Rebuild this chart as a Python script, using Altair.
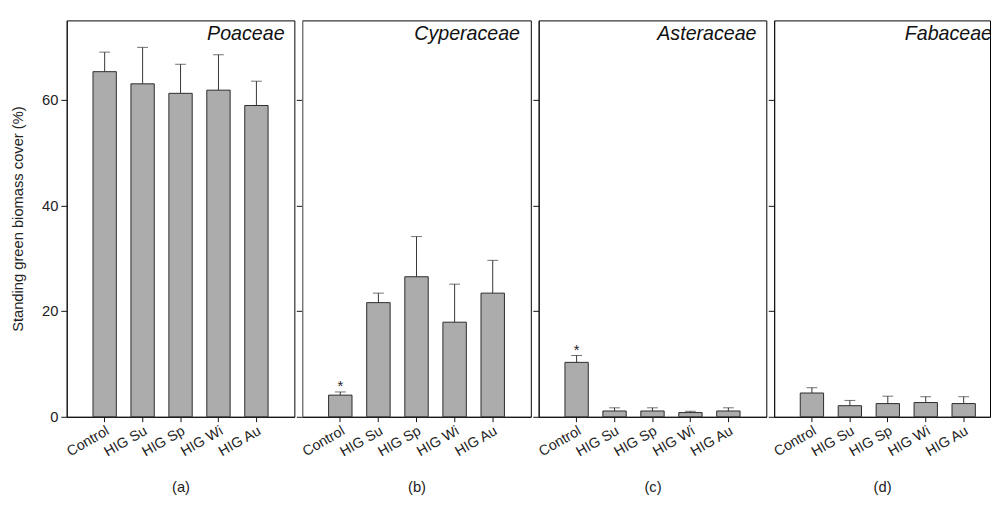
import altair as alt
import pandas as pd

categories = ["Control", "HIG Su", "HIG Sp", "HIG Wi", "HIG Au"]
families = ["Poaceae", "Cyperaceae", "Asteraceae", "Fabaceae"]
letters = ["(a)", "(b)", "(c)", "(d)"]

poaceae_mean = [65.3, 63.0, 61.2, 61.8, 58.9]
poaceae_se = [3.7, 6.9, 5.5, 6.7, 4.6]
cyperaceae_mean = [4.1, 21.6, 26.5, 17.9, 23.4]
cyperaceae_se = [0.6, 1.8, 7.6, 7.2, 6.2]
asteraceae_mean = [10.3, 1.1, 1.1, 0.8, 1.1]
asteraceae_se = [1.3, 0.6, 0.6, 0.25, 0.6]
fabaceae_mean = [4.5, 2.1, 2.5, 2.7, 2.5]
fabaceae_se = [1.0, 1.0, 1.4, 1.1, 1.3]

significant = [
    [False, False, False, False, False],
    [True, False, False, False, False],
    [True, False, False, False, False],
    [False, False, False, False, False],
]

means = [poaceae_mean, cyperaceae_mean, asteraceae_mean, fabaceae_mean]
ses = [poaceae_se, cyperaceae_se, asteraceae_se, fabaceae_se]

FONT = "Liberation Sans"
Y_TITLE = "Standing green biomass cover (%)"


def panel(i, width, scale_kw):
    df = pd.DataFrame({
        "cat": categories,
        "mean": means[i],
        "upper": [m + s for m, s in zip(means[i], ses[i])],
        "star": significant[i],
    })
    first = i == 0
    xenc = alt.X(
        "cat:N", sort=categories, scale=alt.Scale(**scale_kw),
        axis=alt.Axis(title=letters[i], labelAngle=-30, labelAlign="right",
                      labelBaseline="top", tickSize=5, labelPadding=2,
                      titlePadding=22, titleFontSize=15, labelFontSize=14.5),
    )
    yaxis = alt.Axis(
        title=Y_TITLE if first else None, values=[0, 20, 40, 60],
        labels=first, tickSize=6, labelPadding=3, labelFontSize=15,
        titleFontSize=15, titlePadding=16, grid=False,
        domainColor="#111111" if i != 1 else "#888888",
    )
    yscale = alt.Scale(domain=[0, 75], nice=False)
    base = alt.Chart(df).encode(x=xenc)
    bars = base.mark_bar(fill="#acacac", stroke="#2a2a2a", strokeWidth=1).encode(
        y=alt.Y("mean:Q", scale=yscale, axis=yaxis))
    err = base.mark_rule(color="#333333", strokeWidth=1).encode(
        y=alt.Y("mean:Q", scale=yscale, axis=yaxis), y2="upper:Q")
    cap = base.mark_tick(color="#333333", thickness=1, size=11).encode(
        y=alt.Y("upper:Q", scale=yscale, axis=yaxis))
    star = base.transform_filter("datum.star").mark_text(
        text="*", fontSize=15, font=FONT, color="#222222", baseline="alphabetic", dy=-1
    ).encode(y=alt.Y("upper:Q", scale=yscale, axis=yaxis))
    title = alt.Chart(pd.DataFrame({"t": [families[i]]})).mark_text(
        font=FONT, fontSize=20, fontStyle="italic", align="right", baseline="top",
        color="#111111", clip=True,
    ).encode(text="t:N", x=alt.value(232 - 10 if i < 3 else 222),
             y=alt.value(4))
    return alt.layer(bars, err, cap, star, title).properties(width=width, height=404)


std = dict(paddingInner=0.385, paddingOuter=0.6925)
last = dict(paddingInner=0.385, paddingOuter=0.5375, align=0.64)

chart = alt.hconcat(
    panel(0, 232, std), panel(1, 233, std), panel(2, 232, std), panel(3, 220, last),
    spacing=0,
).properties(
    padding={"left": 10, "top": 15, "right": 0, "bottom": 0},
    background="white",
).configure_view(
    stroke="black", strokeWidth=1
).configure_axis(
    labelFont=FONT, titleFont=FONT, labelColor="#222222", titleColor="#222222",
    titleFontWeight="normal", domainColor="#111111", tickColor="#111111",
)

chart.save("out.html", embed_options={"renderer": "svg", "actions": False})
